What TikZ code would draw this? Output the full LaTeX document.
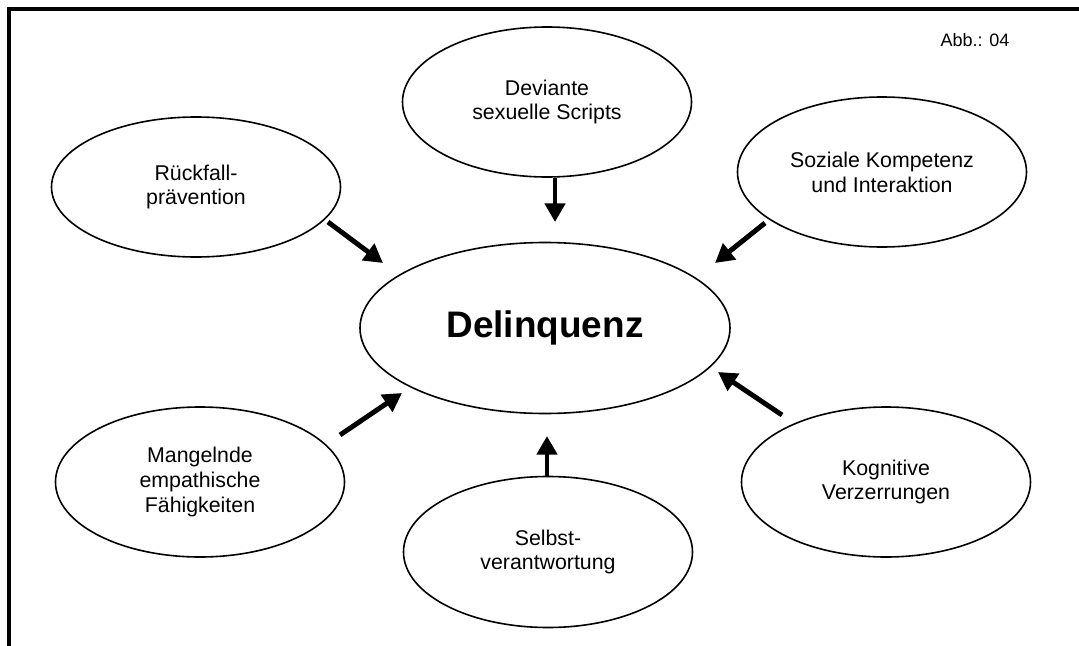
\documentclass[tikz,border=0pt]{standalone}
\usepackage{fontspec}
\setmainfont{Liberation Sans}
\usetikzlibrary{shapes.geometric,arrows.meta}
\begin{document}
\begin{tikzpicture}[x=0.75pt,y=-0.75pt,
  topic/.style={ellipse,draw=black,line width=1.2pt,inner sep=0pt,align=center,
    font=\fontsize{16}{18.6}\selectfont,minimum width=216.75pt,minimum height=112.5pt},
  core/.style={ellipse,draw=black,line width=1.2pt,inner sep=0pt,align=center,
    font=\fontsize{27.7}{32}\selectfont\bfseries,minimum width=277.5pt,minimum height=128.25pt},
  flow/.style={line width=3.7pt,-{Triangle[length=14pt,width=15pt]}},
  frame/.style={line width=3.2pt,line join=miter}]
\useasboundingbox (0,0) rectangle (1079,646);
\draw[frame] (8.8,660) -- (8.8,8.8) -- (1090,8.8);
\node[font=\fontsize{13.5}{16}\selectfont] (abb) at (975,40) {Abb.: 04};

\node[core] (del) at (545,328) {Delinquenz};
\node[topic] (dev) at (547,102) {Deviante\\sexuelle Scripts};
\node[topic,minimum height=105pt] (rue) at (196,187) {Rückfall-\\prävention};
\node[topic] (soz) at (882,172) {Soziale Kompetenz\\und Interaktion};
\node[topic] (man) at (200,482) {Mangelnde\\empathische\\Fähigkeiten};
\node[topic,minimum height=113.25pt] (sel) at (548,552) {Selbst-\\verantwortung};
\node[topic] (kog) at (886,482) {Kognitive\\Verzerrungen};

\coordinate (devS) at (555,178);  \coordinate (devE) at (555,222);
\coordinate (rueS) at (328,222);  \coordinate (rueE) at (383,263);
\coordinate (sozS) at (765,223);  \coordinate (sozE) at (715,263);
\coordinate (manS) at (340,435);  \coordinate (manE) at (402,393);
\coordinate (selS) at (547,477);  \coordinate (selE) at (547,436);
\coordinate (kogS) at (782,415);  \coordinate (kogE) at (718,372);

\draw[flow] (devS) -- (devE);
\draw[flow] (rueS) -- (rueE);
\draw[flow] (sozS) -- (sozE);
\draw[flow] (manS) -- (manE);
\draw[flow] (selS) -- (selE);
\draw[flow] (kogS) -- (kogE);
\end{tikzpicture}
\end{document}
